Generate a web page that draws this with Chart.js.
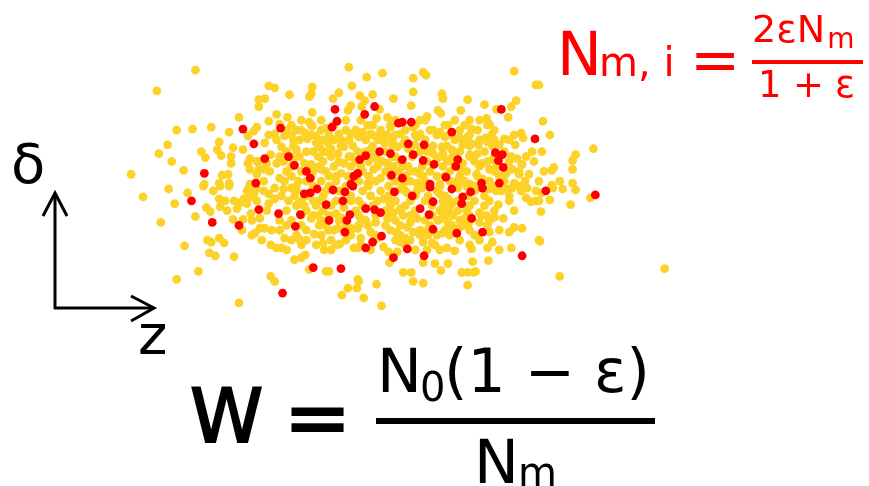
<!doctype html>
<html lang="en">
 <head>
  <meta charset="UTF-8">
  <title>W = N0(1-e)/Nm</title>
  <script src="https://cdn.jsdelivr.net/npm/chart.js@4.4.1/dist/chart.umd.min.js"></script>
  <style>
   body { margin: 0; background: #fff; }
   #wrap { width: 869px; height: 486px; position: relative; }
  </style>
 </head>
 <body>
  <div id="wrap"><canvas id="c"></canvas></div>
  <script>
// particle positions: [z, delta] (delta grows downward, axis is reversed)
var yellowPts = [
 [193,67],[154,88],[257,97],[257,104],[237,115],[174,128],[190,127],[209,125],[227,130],[246,134],[255,125],[252,129],
 [217,140],[165,143],[156,152],[169,160],[199,150],[203,156],[215,148],[219,154],[231,146],[241,148],[229,155],[229,162],
 [248,157],[246,162],[257,160],[248,168],[257,168],[181,169],[128,173],[220,174],[226,173],[255,173],[217,182],[227,182],
 [202,183],[248,183],
 [348,64],[366,74],[382,70],[267,83],[273,85],[311,84],[288,92],[310,91],[308,94],[351,83],[338,90],[332,96],[359,93],
 [372,92],[364,98],[361,104],[393,96],[263,96],[347,108],[350,103],[311,110],[379,107],[376,116],[325,126],[311,124],
 [308,120],[267,119],[275,112],[286,115],[295,128],[278,122],[267,133],[273,132],[283,134],[292,138],[304,131],[306,137],
 [315,134],[315,141],[327,141],[338,132],[340,138],[350,132],[358,135],[362,130],[367,123],[370,132],[387,115],[390,125],
 [387,133],[376,135],[383,133],[384,141],[392,139],[263,141],[269,153],[265,162],[262,168],[295,148],[298,155],[303,162],
 [310,163],[317,155],[325,150],[318,145],[280,145],[275,162],[285,170],[278,177],[290,175],[297,180],[330,147],[337,152],
 [343,145],[350,155],[343,162],[333,165],[340,172],[347,175],[328,175],[320,168],[370,148],[377,158],[387,162],[393,165],
 [373,168],[380,177],[367,182],[397,145],[395,155],
 [423,69],[426,72],[413,75],[515,68],[537,82],[413,89],[442,91],[443,96],[411,103],[468,97],[485,102],[517,98],[512,104],
 [461,108],[438,108],[441,111],[497,107],[509,115],[487,116],[490,122],[427,114],[425,118],[413,125],[433,128],[440,130],
 [448,123],[450,132],[445,135],[472,127],[460,136],[468,135],[463,143],[472,142],[479,143],[486,136],[488,140],[495,138],
 [500,143],[505,137],[515,133],[522,131],[524,136],[516,143],[400,132],[403,142],[417,135],[420,132],[408,147],[415,143],
 [430,147],[433,152],[437,157],[443,152],[447,158],[453,155],[442,145],[452,148],[463,162],[470,153],[478,152],[467,170],
 [477,173],[483,178],[490,168],[493,158],[500,165],[507,172],[483,162],[512,155],[518,157],[527,155],[523,163],[513,168],
 [520,173],[530,173],[526,180],[515,182],[403,165],[410,170],[420,173],[407,180],[417,182],[437,175],[440,183],[457,180],
 [470,183],
 [540,82],[544,119],[551,133],[543,150],[595,147],[577,153],[574,159],[555,166],[553,169],[574,168],[561,180],[574,182],
 [553,184],
 [166,188],[185,192],[201,185],[211,190],[218,185],[227,185],[140,196],[172,203],[217,198],[223,200],[218,206],[204,207],
 [208,211],[235,208],[238,202],[242,198],[247,197],[245,203],[252,193],[255,188],[247,187],[249,213],[193,216],[158,222],
 [231,219],[241,219],[258,218],[258,228],[250,235],[253,233],[205,240],[209,242],[217,238],[222,243],[182,246],[207,253],
 [213,256],[232,257],[196,272],[174,280],[237,304],
 [267,203],[273,198],[280,195],[287,200],[293,195],[297,203],[303,205],[312,200],[290,187],[282,188],[263,228],[270,230],
 [283,238],[298,239],[313,234],[269,245],[275,248],[280,248],[315,245],[322,243],[323,250],[339,244],[353,248],[357,248],
 [345,225],[350,228],[337,228],[310,218],[317,215],[335,213],[360,218],[367,225],[375,222],[387,218],[393,212],[388,200],
 [383,198],[370,195],[358,200],[343,207],[318,225],[327,230],[340,217],[357,228],[370,232],[360,238],[377,238],[383,247],
 [388,252],[396,232],[397,252],[389,263],[293,260],[300,258],[304,255],[308,270],[325,272],[328,272],[269,277],[273,282],
 [357,280],[358,282],[376,285],[347,289],[356,289],[341,296],[363,299],[381,307],[267,193],[273,187],
 [400,188],[407,192],[417,190],[422,187],[440,193],[443,200],[448,198],[453,202],[458,187],[467,185],[477,188],[490,188],
 [497,190],[507,188],[513,187],[520,185],[528,187],[537,190],[527,197],[532,201],[537,200],[499,204],[480,212],[487,215],
 [495,217],[504,218],[467,210],[465,218],[450,212],[443,207],[442,218],[448,222],[453,215],[410,222],[407,227],[417,218],
 [400,208],[403,215],[413,232],[420,235],[427,230],[437,235],[443,233],[453,230],[460,227],[469,223],[480,222],[490,232],
 [510,232],[515,227],[523,228],[540,240],[493,242],[488,248],[512,248],[472,249],[455,251],[447,248],[427,250],[432,243],
 [423,242],[400,242],[405,238],[473,262],[489,261],[448,264],[435,264],[423,263],[403,273],[411,273],[413,282],[441,271],
 [462,273],[468,273],[474,273],[476,272],[423,284],[468,286],
 [543,192],[540,200],[542,211],[551,199],[554,187],[564,188],[577,189],[592,197],[572,204],[541,241],[561,277],[667,269]
];
// the packed middle of the cloud, where single dots can't be told apart
var corePts = [
 [300,118],[320,118],[345,118],[360,118],[395,118],[420,118],[455,118],[470,118],[480,118],
 [285,128],[300,128],[320,128],[345,128],[355,128],[380,128],[405,128],[430,128],[460,128],[478,128],[495,128],
 [275,138],[298,138],[322,138],[333,138],[348,138],[365,138],[378,138],[405,138],[425,138],[455,138],[465,138],[480,138],[510,138],
 [285,150],[305,150],[312,150],[322,150],[357,150],[365,150],[385,150],[420,150],[427,150],[460,150],[485,150],[505,150],[533,150],
 [255,160],[282,160],[292,160],[322,160],[338,160],[355,160],[368,160],[382,160],[400,160],[427,160],[450,160],[475,160],[488,160],[510,160],[535,160],
 [268,170],[300,170],[312,170],[325,170],[362,170],[385,170],[398,170],[415,170],[430,170],[450,170],[462,170],[495,170],[520,170],[545,170],
 [262,180],[283,180],[305,180],[320,180],[335,180],[358,180],[375,180],[395,180],[410,180],[425,180],[450,180],[465,180],[490,180],[505,180],[540,180],
 [245,190],[262,190],[295,190],[325,190],[338,190],[362,190],[380,190],[405,190],[437,190],[475,190],[502,190],[522,190],
 [232,200],[255,200],[300,200],[318,200],[335,200],[350,200],[377,200],[395,200],[410,200],[425,200],[458,200],[475,200],[490,200],[510,200],
 [225,210],[265,210],[285,210],[305,210],[322,210],[355,210],[385,210],[400,210],[415,210],[440,210],[458,210],[495,210],[515,210],
 [250,220],[278,220],[290,220],[320,220],[338,220],[365,220],[395,220],[425,220],[438,220],[460,220],[490,220],
 [240,230],[278,230],[305,230],[333,230],[350,230],[390,230],[420,230],[445,230],[470,230],[500,230],
 [260,240],[290,240],[305,240],[330,240],[345,240],[395,240],[410,240],[460,240],[480,240],
 [285,250],[330,250],[370,250],[415,250],[440,250],[500,250],
 [290,123],[310,123],[333,123],[372,123],[390,123],[415,123],[445,123],[465,123],[488,123],
 [290,133],[310,133],[328,133],[357,133],[372,133],[395,133],[415,133],[437,133],[452,133],[470,133],[492,133],
 [292,144],[318,144],[340,144],[352,144],[372,144],[392,144],[412,144],[433,144],[447,144],[470,144],[493,144],
 [278,155],[290,155],[330,155],[348,155],[372,155],[392,155],[412,155],[440,155],[455,155],[470,155],[495,155],
 [290,165],[307,165],[318,165],[350,165],[360,165],[377,165],[392,165],[408,165],[422,165],[443,165],[458,165],[480,165],[497,165],
 [310,175],[335,175],[352,175],[368,175],[390,175],[405,175],[423,175],[445,175],[460,175],[478,175],[500,175],
 [295,185],[312,185],[328,185],[345,185],[368,185],[388,185],[402,185],[418,185],[440,185],[458,185],[475,185],[497,185],
 [305,195],[322,195],[350,195],[370,195],[388,195],[415,195],[428,195],[445,195],[468,195],[485,195],[510,195],
 [295,205],[315,205],[330,205],[362,205],[372,205],[390,205],[405,205],[432,205],[450,205],[470,205],[485,205],
 [300,215],[312,215],[328,215],[358,215],[375,215],[390,215],[410,215],[432,215],[445,215],[470,215],[482,215],
 [285,225],[300,225],[325,225],[358,225],[385,225],[400,225],[430,225],[452,225],[465,225],[488,225],
 [295,235],[320,235],[350,235],[375,235],[400,235],[428,235],[450,235],[475,235],
 [300,245],[335,245],[360,245],[405,245],[435,245],[470,245]
];
var redPts = [
 [241,127],[252,142],[202,172],[254,182],
 [334,107],[374,104],[364,112],[336,119],[331,125],[279,126],[398,121],[263,157],[287,155],[293,164],[305,170],[309,177],
 [365,154],[359,158],[357,172],[353,175],[350,183],[379,150],[390,152],[391,174],
 [502,107],[402,120],[411,120],[452,130],[536,137],[408,142],[424,143],[413,153],[423,159],[402,158],[458,158],[456,165],
 [434,163],[446,176],[430,183],[496,151],[503,153],[499,159],[504,166],[482,182],[500,182],[402,177],
 [189,200],[257,209],[210,222],[237,225],
 [303,193],[309,192],[316,188],[332,189],[344,191],[342,200],[352,185],[325,204],[277,213],[299,214],[294,226],[328,220],
 [349,214],[346,220],[344,232],[365,208],[374,209],[380,212],[394,191],[381,236],[365,248],[372,242],[393,258],[312,268],
 [340,269],[281,294],
 [412,195],[430,186],[452,188],[471,191],[483,187],[463,196],[462,203],[433,201],[420,208],[429,214],[472,218],[433,229],
 [457,233],[483,232],[407,249],[424,256],[523,256],
 [547,190],[597,194]
];

var YELLOW = 'rgb(253,210,40)';
var RED = 'rgb(255,0,0)';
var FONT = '"DejaVu Sans", sans-serif';

function toXY(list) {
    return list.map(function (p) { return {x: p[0], y: p[1]}; });
}

function txt(ctx, s, x, y, size, color, thick) {
    ctx.font = size + 'px ' + FONT;
    ctx.fillStyle = color;
    ctx.textAlign = 'left';
    ctx.textBaseline = 'alphabetic';
    ctx.fillText(s, x, y);
    if (thick) {
        ctx.lineWidth = thick;
        ctx.strokeStyle = color;
        ctx.lineJoin = 'miter';
        ctx.strokeText(s, x, y);
    }
    return ctx.measureText(s).width;
}

function line(ctx, pts, w, color) {
    ctx.beginPath();
    ctx.moveTo(pts[0][0], pts[0][1]);
    for (var i = 1; i < pts.length; i++) ctx.lineTo(pts[i][0], pts[i][1]);
    ctx.lineWidth = w;
    ctx.strokeStyle = color;
    ctx.lineCap = 'butt';
    ctx.lineJoin = 'miter';
    ctx.stroke();
}

// annotations: axes arrows, labels and the two formulas
var annot = {
    id: 'annot',
    afterDraw: function (chart) {
        var ctx = chart.ctx;
        ctx.save();
        // delta / z arrows
        line(ctx, [[55, 309], [55, 193]], 3, '#000');
        line(ctx, [[43, 216], [55, 193], [67, 216]], 3, '#000');
        line(ctx, [[54, 308], [154, 308]], 3, '#000');
        line(ctx, [[131, 296], [154, 308], [131, 321]], 3, '#000');
        txt(ctx, 'δ', 11, 183, 56, '#000');
        txt(ctx, 'z', 138, 354, 56, '#000');

        // N_{m,i} = 2εN_m / (1+ε)
        txt(ctx, 'N', 557, 75, 60, RED);
        txt(ctx, 'm, i', 599, 76, 40, RED);
        txt(ctx, '=', 690, 80, 60, RED);
        line(ctx, [[752, 62], [863, 62]], 4, RED);
        var w = txt(ctx, '2εN', 752, 42, 38, RED);
        txt(ctx, 'm', 752 + w + 2, 48, 28, RED);
        txt(ctx, '1', 758, 97, 37, RED);
        txt(ctx, '+', 793, 97, 37, RED);
        txt(ctx, 'ε', 835, 97, 37, RED);

        // W = N0(1-ε)/Nm
        txt(ctx, 'W', 190, 442, 74, '#000', 2);
        txt(ctx, '=', 284, 445, 80, '#000', 2);
        line(ctx, [[376, 421], [655, 421]], 6, '#000');
        txt(ctx, 'N', 377, 392, 60, '#000');
        txt(ctx, '0', 420, 401, 40, '#000');
        txt(ctx, '(1 − ε)', 444, 392, 60, '#000');
        txt(ctx, 'N', 474, 483, 60, '#000');
        txt(ctx, 'm', 518, 486, 40, '#000');
        ctx.restore();
    }
};

new Chart(document.getElementById('c'), {
    type: 'scatter',
    data: {
        datasets: [
            {label: 'marked', data: toXY(redPts), backgroundColor: RED, pointRadius: 4.4, borderWidth: 0, order: 0},
            {label: 'all', data: toXY(yellowPts.concat(corePts)), backgroundColor: YELLOW, pointRadius: 4.4, borderWidth: 0, order: 1}
        ]
    },
    options: {
        responsive: true,
        maintainAspectRatio: false,
        animation: false,
        layout: {padding: 0},
        plugins: {legend: {display: false}, tooltip: {enabled: false}},
        scales: {
            x: {type: 'linear', min: 0, max: 869, display: false},
            y: {type: 'linear', min: 0, max: 486, reverse: true, display: false}
        }
    },
    plugins: [annot]
});
  </script>
 </body>
</html>
